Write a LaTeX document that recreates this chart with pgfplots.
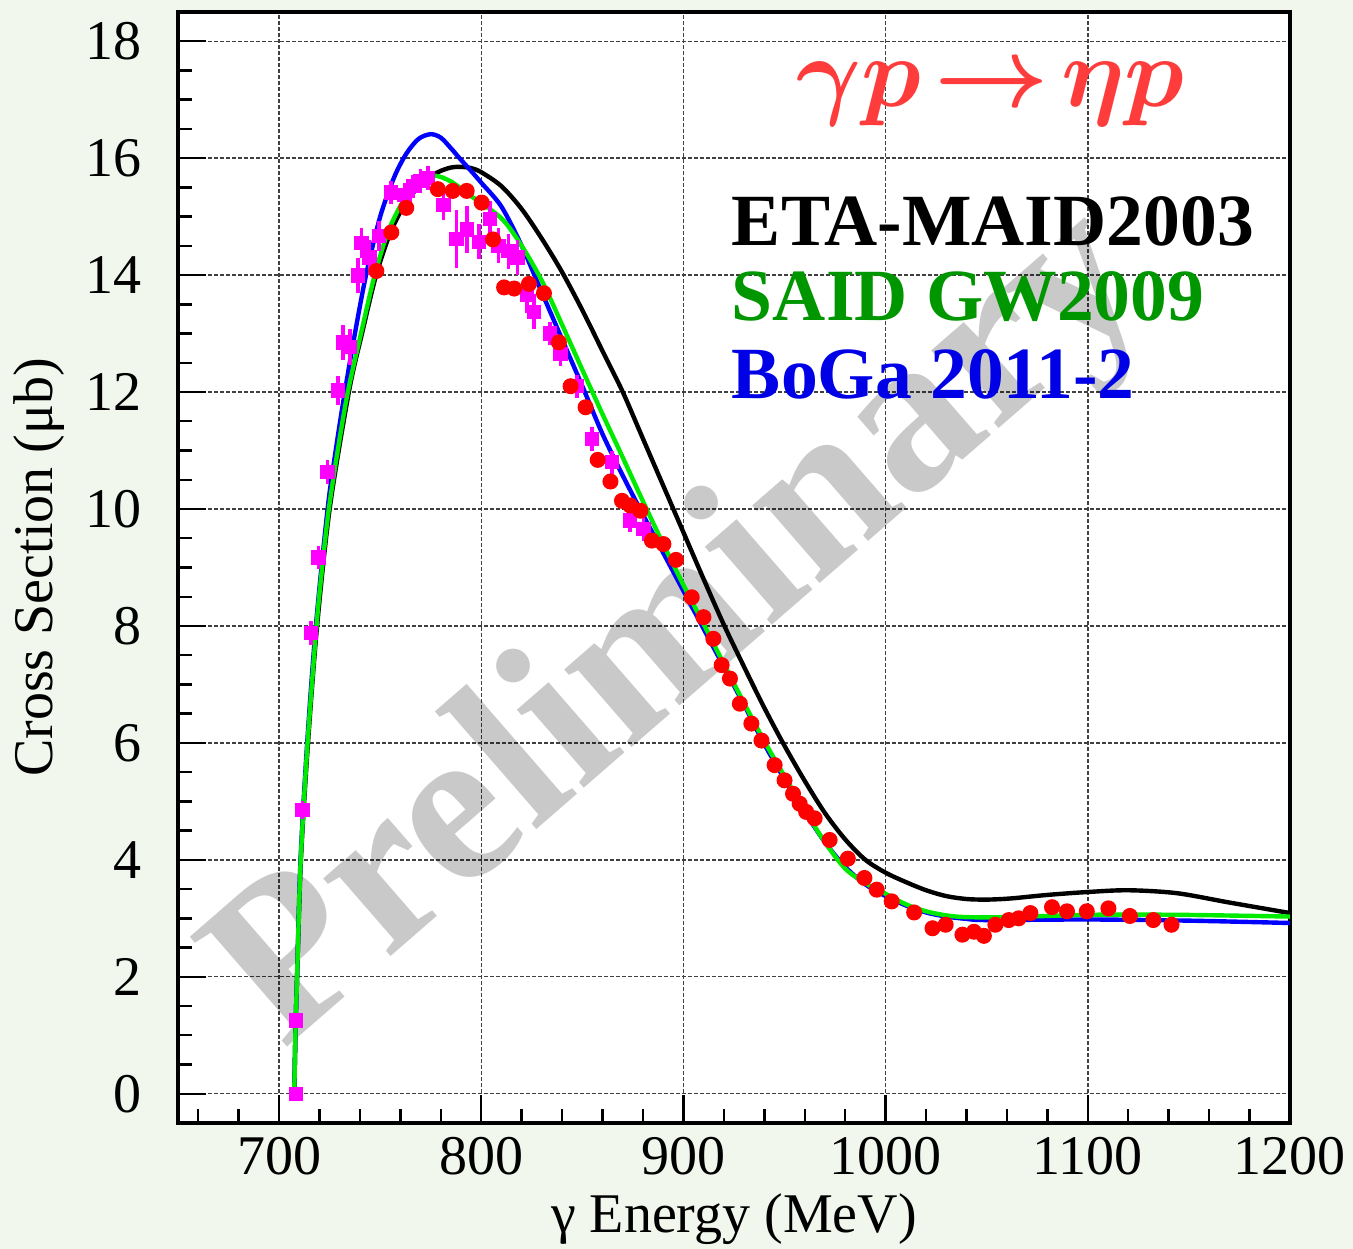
\documentclass[border=0pt]{standalone}
\usepackage{fontspec}
\setmainfont{Liberation Serif}
\usepackage{pgfplots}
\pgfplotsset{compat=1.18}
\definecolor{bgcol}{RGB}{241,247,236}
\definecolor{saidtxt}{RGB}{0,150,0}
\definecolor{saidline}{RGB}{0,235,0}
\definecolor{bogatxt}{RGB}{0,0,230}
\definecolor{bogaline}{RGB}{0,0,255}
\definecolor{titlecol}{RGB}{255,60,60}
\definecolor{datared}{RGB}{255,0,0}
\definecolor{datamag}{RGB}{255,0,255}
\begin{document}
\begin{tikzpicture}
\path[fill=bgcol, use as bounding box] (-44.5pt,-31.5pt) rectangle (293.75pt,280.75pt);
\begin{axis}[
  at={(0pt,0pt)}, anchor=south west,
  scale only axis, width=278pt, height=277.75pt,
  xmin=650, xmax=1200, ymin=-0.5, ymax=18.5,
  xtick={700,800,...,1200}, ytick={0,2,...,18},
  minor xtick={660,680,...,1180}, minor ytick={-0.5,0,...,18.5},
  tick align=inside, xtick pos=left, ytick pos=left,
  major tick length=7pt, minor tick length=3.5pt,
  every tick/.style={black, line width=0.6pt},
  grid=major,
  major grid style={black!75, line width=0.35pt, dash pattern=on 0.9pt off 0.6pt},
  axis line style={line width=0.8pt},
  axis background/.style={fill=white},
  tick label style={font=\fontsize{14}{14}\selectfont},
  /pgf/number format/assume math mode=true,
  /pgf/number format/1000 sep={},
  yticklabel style={xshift=-5.5pt},
  xlabel={γ Energy (MeV)}, ylabel={Cross Section (μb)},
  label style={font=\fontsize{14}{14}\selectfont},
  xlabel style={at={(axis description cs:0.5,-0.099)}, anchor=base},
  ylabel style={at={(axis description cs:-0.1133,0.5)}, anchor=base},
]
\node[rotate=41, text=black, opacity=0.21, font=\fontsize{56}{56}\selectfont\bfseries] at (axis cs:900,7.9) {Preliminary};

% ETA-MAID2003
\addplot[black, line width=1.1pt, smooth] table {
x y
707.5 0
708.2 1.2
708.9 2
710.8 4
714.3 6
718.8 8
725 10
734.5 12
741 13
748 14
755 14.72
762 15.2
770 15.55
778 15.75
785 15.84
790 15.85
795 15.83
800 15.76
810 15.52
820 15.13
830 14.62
840 14.05
850 13.4
860 12.7
870 12.0
880 11.2
890 10.4
900 9.6
910 8.8
920 8.02
930 7.3
940 6.6
950 5.95
960 5.35
970 4.8
980 4.35
990 4.0
1000 3.78
1010 3.62
1020 3.48
1030 3.38
1040 3.33
1050 3.32
1062 3.34
1080 3.4
1100 3.45
1120 3.48
1144 3.43
1170 3.27
1200 3.09
};
% BoGa 2011-2
\addplot[bogaline, line width=1.1pt, smooth] table {
x y
707.5 0
708.2 1.2
708.9 2
710.6 4
713.9 6
718.2 8
724 10
728 11
732.5 12
737.5 13
743 14
750 15.0
757 15.68
763 16.08
769 16.33
775 16.41
780 16.35
785 16.17
790 15.97
795 15.78
800 15.58
810 15.17
820 14.5
830 13.7
840 12.9
850 12.1
860 11.28
870 10.57
880 9.9
890 9.25
900 8.6
910 7.95
920 7.3
930 6.65
940 5.98
950 5.38
960 4.82
970 4.3
980 3.88
990 3.58
1000 3.38
1010 3.22
1020 3.1
1030 3.03
1040 2.99
1050 2.97
1100 2.98
1150 2.96
1200 2.92
};
% SAID GW2009
\addplot[saidline, line width=1.1pt, smooth] table {
x y
707.5 0
708.2 1.2
708.9 2
710.7 4
714.1 6
718.5 8
721.3 9
724.6 10
729 11
734 12
740.5 13
747.3 14
754 14.75
762 15.3
770 15.6
777 15.7
785 15.6
795 15.35
810 14.97
820 14.5
830 13.9
840 13.15
850 12.38
860 11.62
870 10.88
880 10.13
890 9.4
900 8.7
910 8.03
920 7.35
930 6.68
940 6.03
950 5.43
960 4.85
970 4.3
980 3.85
990 3.6
1000 3.42
1010 3.24
1020 3.12
1030 3.05
1040 3.02
1061 3.02
1100 3.06
1144 3.06
1200 3.03
};
% magenta data
\addplot[only marks, mark=square*, mark size=1.6pt, color=datamag,
  error bars/.cd, y dir=both, y explicit, error mark=none,
  error bar style={line width=0.9pt, datamag}]
  table[x=x, y=y, y error=e] {
x y e
708.4 0 0.05
708.4 1.25 0.1
711.5 4.85 0.15
715.8 7.88 0.2
719.4 9.17 0.2
724.0 10.63 0.2
729.2 12.03 0.25
731.7 12.85 0.3
735.0 12.77 0.3
739.0 13.99 0.3
740.7 14.55 0.25
744.8 14.3 0.3
749.5 14.67 0.25
755.5 15.41 0.2
762.0 15.37 0.2
766.2 15.52 0.2
770.0 15.61 0.2
773.6 15.66 0.2
781.4 15.2 0.25
787.8 14.62 0.5
792.9 14.78 0.4
799.0 14.57 0.3
804.4 14.96 0.3
808.5 14.5 0.3
813.5 14.41 0.3
817.9 14.3 0.3
822.5 13.66 0.3
826.0 13.37 0.3
834.1 13.0 0.2
839.2 12.65 0.2
847.5 12.1 0.2
854.9 11.2 0.2
864.7 10.8 0.2
873.7 9.8 0.2
880.3 9.66 0.2
};
% red data
\addplot[only marks, mark=*, mark size=1.8pt, color=datared] table {
x y
748.1 14.07
755.5 14.73
762.9 15.15
778.5 15.47
785.9 15.44
792.8 15.44
800.2 15.24
805.8 14.61
811.3 13.79
816.3 13.77
823.6 13.85
831.0 13.69
838.4 12.85
844.2 12.10
851.6 11.74
857.6 10.84
863.9 10.47
869.6 10.14
873.7 10.06
878.7 9.97
884.4 9.46
890.1 9.40
896.3 9.13
904.1 8.49
909.9 8.15
914.8 7.78
918.9 7.33
923.0 7.10
927.9 6.67
933.6 6.33
938.6 6.04
945.1 5.62
950.0 5.36
954.2 5.13
957.5 4.96
960.7 4.82
964.9 4.71
972.3 4.34
981.3 4.02
989.5 3.69
995.6 3.49
1003.0 3.29
1014.1 3.10
1023.2 2.83
1029.7 2.89
1038.0 2.72
1043.7 2.77
1048.6 2.70
1054.3 2.89
1060.9 2.97
1065.8 3.00
1071.6 3.09
1082.3 3.19
1089.7 3.12
1099.5 3.12
1110.2 3.17
1120.8 3.04
1132.4 2.97
1141.4 2.89
};
\node[text=titlecol, font=\fontsize{30}{30}\selectfont\boldmath] at (axis cs:1052,17.1) {$\gamma p\!\rightarrow\!\eta p$};
\node[anchor=base west, inner sep=0pt, text=black, font=\fontsize{18.4}{18.4}\selectfont\bfseries] at (axis cs:923.6,14.5) {ETA-MAID2003};
\node[anchor=base west, inner sep=0pt, text=saidtxt, font=\fontsize{18.4}{18.4}\selectfont\bfseries] at (axis cs:923.6,13.22) {SAID GW2009};
\node[anchor=base west, inner sep=0pt, text=bogatxt, font=\fontsize{18.4}{18.4}\selectfont\bfseries] at (axis cs:923.6,11.89) {BoGa 2011-2};
\end{axis}
\end{tikzpicture}
\end{document}
